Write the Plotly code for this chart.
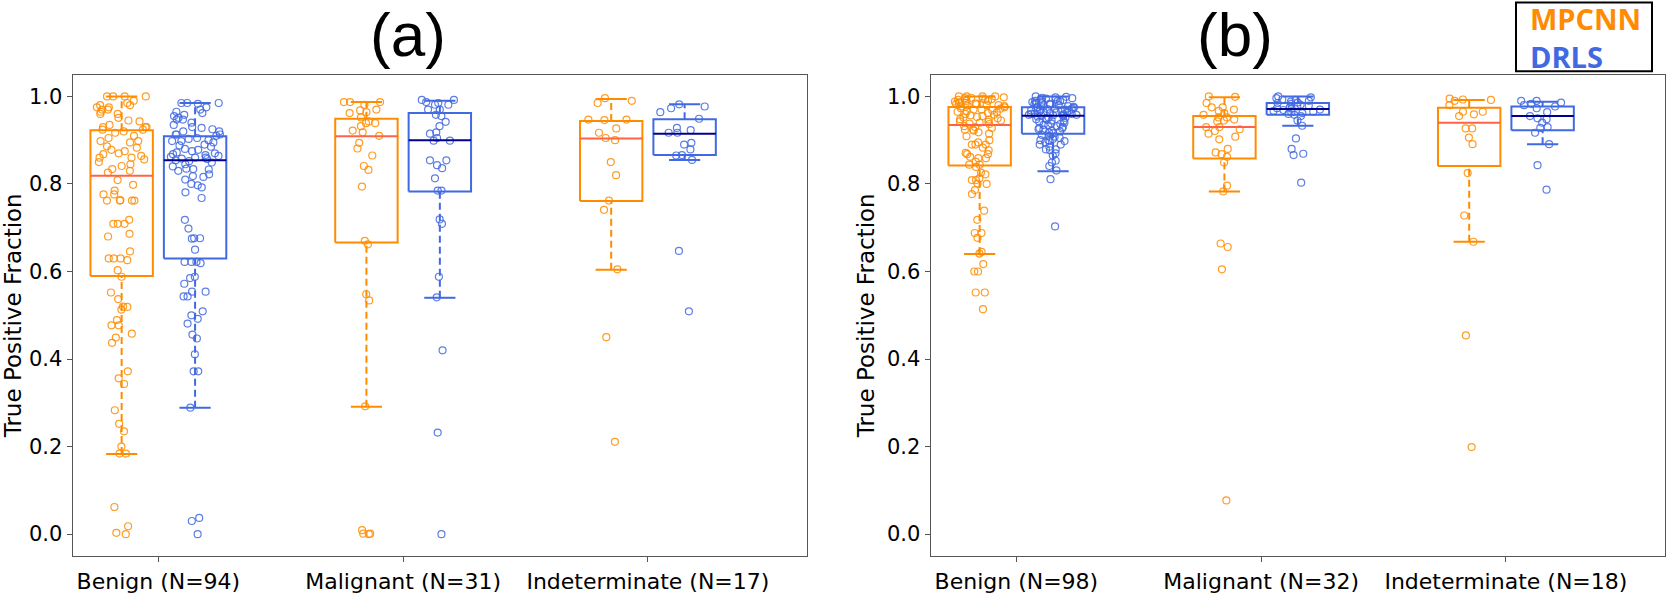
import plotly.graph_objects as go

# ---------------- data ----------------
categories_a = ["Benign (N=94)", "Malignant (N=31)", "Indeterminate (N=17)"]
categories_b = ["Benign (N=98)", "Malignant (N=32)", "Indeterminate (N=18)"]
y_ticks = [0.0, 0.2, 0.4, 0.6, 0.8, 1.0]

# panel (a) per-case true positive fractions
a_mpcnn_benign = [1.0, 1.0, 1.0, 1.0, 0.99, 0.985, 0.98, 0.98, 0.975, 0.975, 0.97, 0.97, 0.965, 0.96, 0.96,
                  0.951, 0.945, 0.943, 0.935, 0.93, 0.93, 0.93, 0.924, 0.924,
                  0.92, 0.917, 0.91, 0.905, 0.898, 0.898, 0.895, 0.886, 0.883, 0.878, 0.875, 0.87, 0.868,
                  0.864, 0.86, 0.86, 0.856, 0.85, 0.845, 0.841, 0.834, 0.83, 0.826,
                  0.809, 0.798, 0.785, 0.776, 0.776, 0.763, 0.762, 0.762, 0.762, 0.762, 0.718, 0.709, 0.709,
                  0.709, 0.686, 0.68, 0.646, 0.63, 0.63, 0.63, 0.626, 0.603,
                  0.588, 0.552, 0.537, 0.52, 0.519, 0.513, 0.489, 0.477, 0.477, 0.458, 0.449, 0.437, 0.372,
                  0.356, 0.343, 0.283, 0.252, 0.235, 0.2, 0.184, 0.184, 0.062, 0.018, 0.003, 0.0]
a_drls_benign = [0.985, 0.985, 0.985, 0.983, 0.975, 0.97, 0.965, 0.962, 0.958, 0.955, 0.951, 0.947, 0.947,
                 0.94, 0.935, 0.93, 0.928, 0.925, 0.92, 0.92, 0.913, 0.913, 0.913, 0.91,
                 0.905, 0.903, 0.9, 0.898, 0.898, 0.895, 0.89, 0.888, 0.885, 0.88, 0.878, 0.875, 0.872, 0.87,
                 0.868, 0.866, 0.864, 0.862, 0.86, 0.86, 0.858, 0.857, 0.854,
                 0.852, 0.849, 0.845, 0.84, 0.835, 0.834, 0.833, 0.83, 0.822, 0.818, 0.816, 0.81, 0.8, 0.797,
                 0.792, 0.781, 0.768, 0.718, 0.698, 0.676, 0.676, 0.675, 0.65,
                 0.622, 0.622, 0.622, 0.619, 0.588, 0.585, 0.572, 0.554, 0.554, 0.543, 0.543, 0.509, 0.5,
                 0.492, 0.481, 0.456, 0.447, 0.411, 0.372, 0.372, 0.289, 0.037, 0.03, 0.0]
a_mpcnn_malig = [0.987, 0.987, 0.987, 0.981, 0.97, 0.968, 0.964, 0.962, 0.952, 0.943, 0.939, 0.939, 0.932,
                 0.922, 0.918, 0.91, 0.894, 0.881, 0.865, 0.841, 0.832, 0.794, 0.67, 0.662, 0.548, 0.534,
                 0.292, 0.009, 0.001, 0.001, 0.0]
a_drls_malig = [0.992, 0.992, 0.987, 0.985, 0.981, 0.981, 0.97, 0.97, 0.958, 0.955, 0.942, 0.932, 0.918,
                0.915, 0.905, 0.899, 0.899, 0.854, 0.854, 0.843, 0.836, 0.813, 0.785, 0.785, 0.719, 0.709,
                0.588, 0.541, 0.42, 0.232, 0.0]
a_mpcnn_indet = [0.996, 0.99, 0.985, 0.947, 0.947, 0.946, 0.927, 0.917, 0.905, 0.9, 0.85, 0.82, 0.762,
                 0.741, 0.605, 0.45, 0.211]
a_drls_indet = [0.982, 0.977, 0.973, 0.964, 0.949, 0.928, 0.923, 0.917, 0.917, 0.894, 0.89, 0.879, 0.866,
                0.865, 0.855, 0.647, 0.509]

# panel (b) per-case true positive fractions
b_mpcnn_benign = [1.0, 1.0, 1.0, 1.0, 0.998, 0.997, 0.996, 0.995, 0.994, 0.993, 0.992, 0.99, 0.99, 0.988,
                  0.987, 0.985, 0.985, 0.984, 0.983, 0.982, 0.98, 0.98, 0.979, 0.978, 0.977,
                  0.975, 0.973, 0.972, 0.97, 0.97, 0.968, 0.966, 0.965, 0.963, 0.962, 0.96, 0.958, 0.957,
                  0.955, 0.953, 0.952, 0.95, 0.948, 0.947, 0.945, 0.943, 0.942, 0.94, 0.938, 0.937,
                  0.932, 0.93, 0.928, 0.924, 0.924, 0.922, 0.918, 0.915, 0.909, 0.9, 0.895, 0.89, 0.89, 0.89,
                  0.883, 0.877, 0.871, 0.868, 0.868, 0.862, 0.859, 0.859, 0.851, 0.844, 0.844,
                  0.839, 0.826, 0.822, 0.813, 0.809, 0.809, 0.801, 0.8, 0.786, 0.777, 0.739, 0.718, 0.688,
                  0.688, 0.677, 0.645, 0.641, 0.617, 0.6, 0.6, 0.552, 0.552, 0.514]
b_drls_benign = [1.0, 0.999, 0.998, 0.997, 0.996, 0.995, 0.994, 0.993, 0.992, 0.99, 0.99, 0.989, 0.988,
                 0.987, 0.986, 0.985, 0.984, 0.983, 0.982, 0.981, 0.98, 0.978, 0.977, 0.976,
                 0.975, 0.974, 0.973, 0.972, 0.972, 0.971, 0.97, 0.969, 0.968, 0.967, 0.966, 0.965, 0.965,
                 0.964, 0.963, 0.962, 0.961, 0.96, 0.96, 0.959, 0.958, 0.958, 0.957, 0.957, 0.956,
                 0.955, 0.954, 0.952, 0.951, 0.95, 0.948, 0.947, 0.945, 0.944, 0.942, 0.94, 0.938, 0.937,
                 0.935, 0.934, 0.932, 0.93, 0.928, 0.927, 0.925, 0.924, 0.922, 0.92, 0.918, 0.916,
                 0.912, 0.91, 0.908, 0.905, 0.903, 0.9, 0.9, 0.898, 0.898, 0.895, 0.89, 0.89, 0.885, 0.879,
                 0.879, 0.877, 0.87, 0.865, 0.853, 0.849, 0.841, 0.831, 0.811, 0.703]
b_mpcnn_malig = [1.0, 0.999, 0.985, 0.975, 0.975, 0.97, 0.967, 0.962, 0.958, 0.952, 0.952, 0.947, 0.945,
                 0.943, 0.93, 0.93, 0.925, 0.921, 0.915, 0.908, 0.902, 0.88, 0.872, 0.868, 0.862, 0.849,
                 0.796, 0.783, 0.664, 0.656, 0.605, 0.077]
b_drls_malig = [1.0, 0.998, 0.996, 0.993, 0.992, 0.99, 0.988, 0.986, 0.985, 0.983, 0.981, 0.979, 0.977,
                0.975, 0.973, 0.972, 0.97, 0.969, 0.967, 0.965, 0.964, 0.962, 0.96, 0.958, 0.955, 0.945,
                0.933, 0.904, 0.88, 0.869, 0.866, 0.803]
b_mpcnn_indet = [0.995, 0.993, 0.992, 0.99, 0.98, 0.965, 0.965, 0.959, 0.955, 0.927, 0.927, 0.906, 0.891,
                 0.825, 0.728, 0.668, 0.454, 0.199]
b_drls_indet = [0.99, 0.99, 0.986, 0.983, 0.98, 0.977, 0.973, 0.964, 0.955, 0.95, 0.948, 0.94, 0.93, 0.928,
                0.917, 0.891, 0.843, 0.787]

# box statistics: [lower whisker, Q1, median, Q3, upper whisker] per category
a_mpcnn_box = [[0.183, 0.590, 0.819, 0.923, 1.000], [0.291, 0.666, 0.909, 0.949, 0.987], [0.604, 0.761, 0.904, 0.944, 0.994]]
a_drls_box = [[0.289, 0.630, 0.854, 0.909, 0.985], [0.540, 0.783, 0.900, 0.962, 0.990], [0.855, 0.866, 0.915, 0.948, 0.982]]
b_mpcnn_box = [[0.640, 0.842, 0.935, 0.976, 1.000], [0.783, 0.858, 0.930, 0.955, 0.998], [0.668, 0.841, 0.940, 0.974, 0.992]]
b_drls_box = [[0.829, 0.915, 0.956, 0.975, 1.000], [0.933, 0.958, 0.971, 0.985, 1.000], [0.891, 0.923, 0.955, 0.977, 0.988]]

# ---------------- style ----------------
ORANGE = "#FF8C00"
BLUE = "#4169E1"
ORANGE_MED = "#FF6347"
BLUE_MED = "#00008B"
OFFSET = 0.15
BOXW = 0.255
AXCOL = "#555555"
W, H = 1670, 594

fig = go.Figure()


def add_group(xa, ya, pos, vals, stats, color, medcolor):
    lo, q1, med, q3, hi = stats
    h = BOXW / 2
    common = dict(xaxis=xa, yaxis=ya, showlegend=False, hoverinfo="skip", mode="lines")
    fig.add_trace(go.Scatter(x=[pos, pos, None, pos, pos], y=[lo, q1, None, q3, hi],
                             line=dict(color=color, width=2, dash="7px,4px"), **common))
    fig.add_trace(go.Scatter(x=[pos - h / 2, pos + h / 2, None, pos - h / 2, pos + h / 2],
                             y=[lo, lo, None, hi, hi], line=dict(color=color, width=2), **common))
    fig.add_trace(go.Scatter(x=[pos - h, pos + h, pos + h, pos - h, pos - h], y=[q1, q1, q3, q3, q1],
                             line=dict(color=color, width=2), **common))
    fig.add_trace(go.Scatter(x=[pos - h, pos + h], y=[med, med], line=dict(color=medcolor, width=2), **common))
    fig.add_trace(go.Box(x0=pos, y=vals, width=BOXW, boxpoints="all", jitter=0.8, pointpos=0,
                         line=dict(width=0, color=color), fillcolor="rgba(0,0,0,0)",
                         marker=dict(symbol="circle-open", size=7, color=color, opacity=0.85,
                                     line=dict(width=1.2)),
                         xaxis=xa, yaxis=ya, showlegend=False, hoverinfo="skip"))


panel_a = [(a_mpcnn_benign, a_drls_benign), (a_mpcnn_malig, a_drls_malig), (a_mpcnn_indet, a_drls_indet)]
panel_b = [(b_mpcnn_benign, b_drls_benign), (b_mpcnn_malig, b_drls_malig), (b_mpcnn_indet, b_drls_indet)]

for i, (m, d) in enumerate(panel_a):
    add_group("x", "y", i - OFFSET, m, a_mpcnn_box[i], ORANGE, ORANGE_MED)
    add_group("x", "y", i + OFFSET, d, a_drls_box[i], BLUE, BLUE_MED)
for i, (m, d) in enumerate(panel_b):
    add_group("x2", "y2", i - OFFSET, m, b_mpcnn_box[i], ORANGE, ORANGE_MED)
    add_group("x2", "y2", i + OFFSET, d, b_drls_box[i], BLUE, BLUE_MED)

xtickfont = dict(family="DejaVu Sans", size=22, color="black")
ytickfont = dict(family="DejaVu Sans", size=21, color="black")
xcommon = dict(range=[-0.35, 2.65], tickvals=[0, 1, 2], showline=True, mirror=True, linecolor=AXCOL,
               linewidth=1.3, ticks="outside", ticklen=5, tickcolor=AXCOL, showgrid=False, zeroline=False,
               tickfont=xtickfont)
ycommon = dict(range=[-0.05, 1.05], tickvals=y_ticks, tickformat=".1f", showline=True, mirror=True,
               linecolor=AXCOL, linewidth=1.3, ticks="outside", ticklen=5, tickcolor=AXCOL, showgrid=False,
               zeroline=False, tickfont=ytickfont,
               title=dict(text="True Positive Fraction", font=dict(family="DejaVu Sans", size=23, color="black"),
                          standoff=5))

ydom = [1 - 561.7 / H, 1 - 75.3 / H]
fig.update_layout(
    width=W, height=H,
    margin=dict(l=0, r=0, t=0, b=0),
    paper_bgcolor="white", plot_bgcolor="white",
    showlegend=False,
    xaxis=dict(domain=[72.7 / W, 807 / W], anchor="y", ticktext=categories_a, **xcommon),
    yaxis=dict(domain=ydom, anchor="x", **ycommon),
    xaxis2=dict(domain=[930.7 / W, 1665 / W], anchor="y2", ticktext=categories_b, **xcommon),
    yaxis2=dict(domain=ydom, anchor="x2", **ycommon),
)

title_font = dict(family="Liberation Sans", size=62, color="black")
fig.add_annotation(text="(a)", x=408 / W, y=1, xref="paper", yref="paper", borderpad=0, borderwidth=0,
                   xanchor="center", yanchor="top", showarrow=False, font=title_font)
fig.add_annotation(text="(b)", x=1235 / W, y=1, xref="paper", yref="paper", borderpad=0, borderwidth=0,
                   xanchor="center", yanchor="top", showarrow=False, font=title_font)

# legend box with coloured labels
fig.add_shape(type="rect", xref="paper", yref="paper", x0=1516 / W, x1=1652 / W,
              y0=1 - 72 / H, y1=1 - 2.5 / H, line=dict(color="black", width=2), fillcolor="white")
fig.add_annotation(text=f"<b><span style='color:{ORANGE}'>MPCNN</span><br>"
                        f"<span style='color:{BLUE}'>DRLS</span></b>",
                   x=1528 / W, y=1 - 38 / H, xref="paper", yref="paper", align="left",
                   xanchor="left", yanchor="middle", showarrow=False,
                   font=dict(family="Open Sans", size=29, color=ORANGE))

fig.write_html("out.html", config={"displayModeBar": False},
               post_script="document.body.style.margin='0px';")
